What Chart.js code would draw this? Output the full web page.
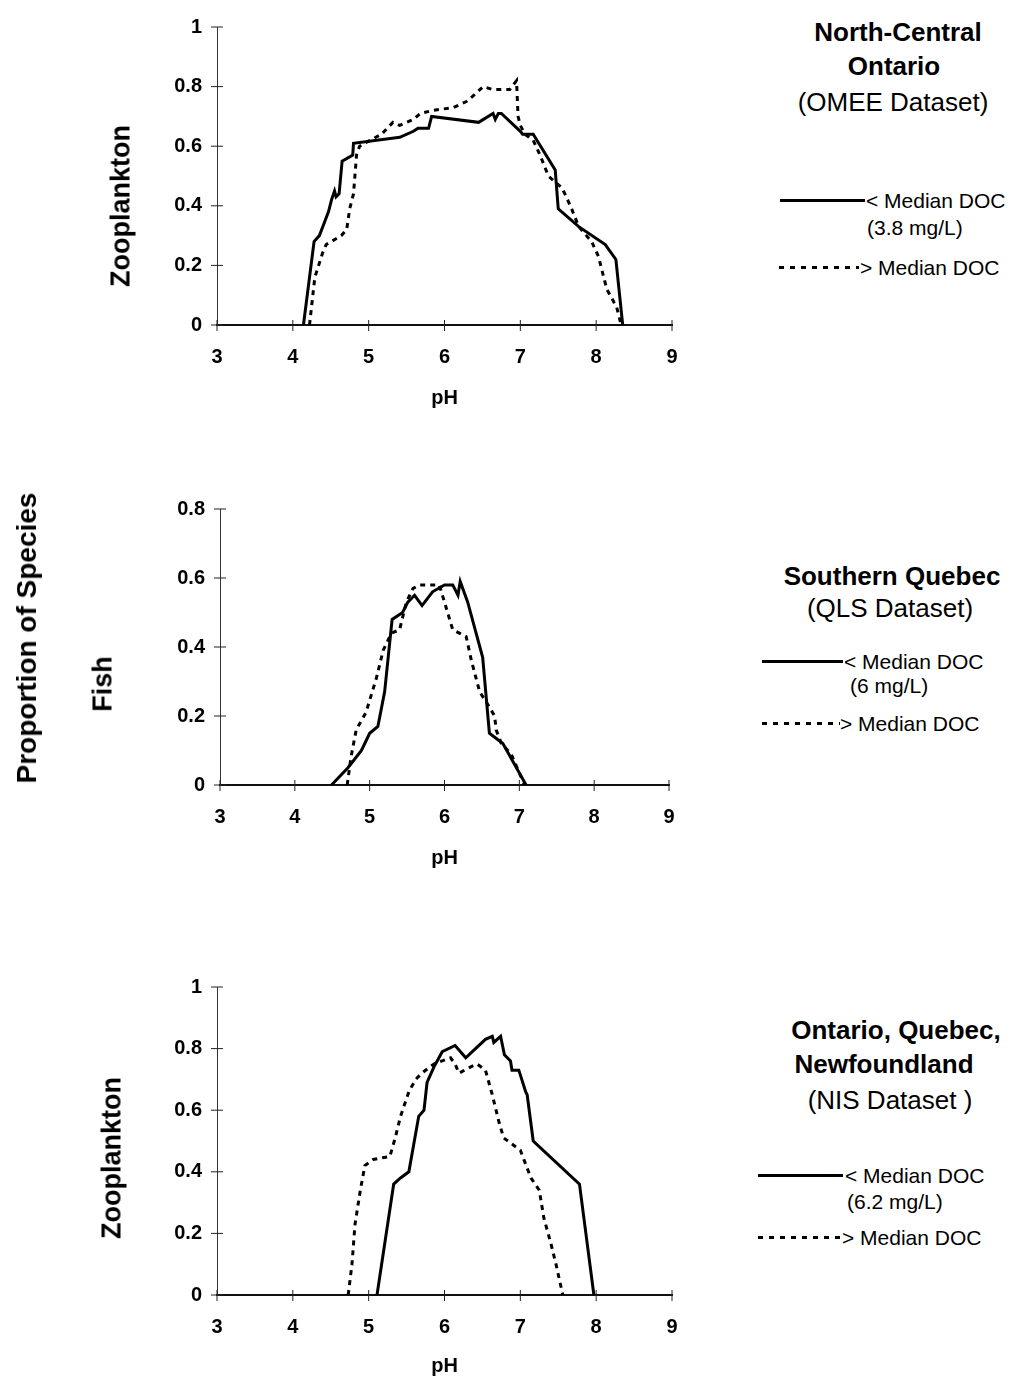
<!DOCTYPE html>
<html>
<head>
<meta charset="utf-8">
<script src="https://cdn.jsdelivr.net/npm/chart.js@4.4.1/dist/chart.umd.min.js"></script>
<style>
  body { margin: 0; width: 1013px; height: 1377px; position: relative; background: #fff; overflow: hidden;
         font-family: "Liberation Sans", Arial, sans-serif; color: #000; }
  .panel { position: absolute; left: 0; }
  .t { position: absolute; white-space: nowrap; transform: translate(-50%, -50%); font-size: 26px; }
  .b { font-weight: bold; }
  .rot { transform: translate(-50%, -50%) rotate(-90deg); font-size: 27px; }
  .lt { position: absolute; white-space: nowrap; transform: translateY(-50%); font-size: 21px; }
  .solid { position: absolute; height: 3px; background: #000; }
  .dash { position: absolute; height: 3px; background: repeating-linear-gradient(90deg, #000 0 5px, transparent 5px 11px); }
</style>
</head>
<body>

<canvas id="omee" class="panel" width="700" height="410" style="top:0px"></canvas>
<canvas id="qls" class="panel" width="700" height="390" style="top:480px"></canvas>
<canvas id="nis" class="panel" width="700" height="418" style="top:960px"></canvas>

<!-- y titles -->
<div class="t b rot" style="left:27px; top:638px; font-size:28px">Proportion of Species</div>
<div class="t b rot" style="left:121px; top:206px">Zooplankton</div>
<div class="t b rot" style="left:103px; top:684px">Fish</div>
<div class="t b rot" style="left:112px; top:1158px">Zooplankton</div>

<!-- panel titles + legends -->
<div class="t b" style="left:898px; top:32px">North-Central</div>
<div class="t b" style="left:894px; top:66px">Ontario</div>
<div class="t" style="left:893px; top:102px">(OMEE Dataset)</div>
<div class="solid" style="left:780px; top:199px; width:85px"></div>
<div class="lt" style="left:866px; top:201px">&lt; Median DOC</div>
<div class="lt" style="left:867px; top:228px">(3.8 mg/L)</div>
<div class="dash" style="left:779px; top:266px; width:80px"></div>
<div class="lt" style="left:860px; top:268px">&gt; Median DOC</div>

<div class="t b" style="left:892px; top:576px">Southern Quebec</div>
<div class="t" style="left:890px; top:608px">(QLS Dataset)</div>
<div class="solid" style="left:762px; top:660px; width:81px"></div>
<div class="lt" style="left:844px; top:662px">&lt; Median DOC</div>
<div class="lt" style="left:850px; top:686px">(6 mg/L)</div>
<div class="dash" style="left:762px; top:722px; width:78px"></div>
<div class="lt" style="left:840px; top:724px">&gt; Median DOC</div>

<div class="t b" style="left:896px; top:1030px">Ontario, Quebec,</div>
<div class="t b" style="left:884px; top:1064px">Newfoundland</div>
<div class="t" style="left:890px; top:1100px">(NIS Dataset )</div>
<div class="solid" style="left:758px; top:1174px; width:85px"></div>
<div class="lt" style="left:845px; top:1176px">&lt; Median DOC</div>
<div class="lt" style="left:847px; top:1202px">(6.2 mg/L)</div>
<div class="dash" style="left:758px; top:1236px; width:82px"></div>
<div class="lt" style="left:842px; top:1238px">&gt; Median DOC</div>

<script>
// North-Central Ontario (OMEE), zooplankton
const omeeLowPH = [4.14, 4.28, 4.35, 4.41, 4.47, 4.51, 4.55, 4.57, 4.61, 4.65, 4.79, 4.80, 5.41, 5.59, 5.65, 5.79, 5.83,
  6.45, 6.64, 6.67, 6.71, 6.75, 7.00, 7.03, 7.17, 7.46, 7.50, 7.77, 8.12, 8.26, 8.35];
const omeeLowProp = [0, 0.28, 0.30, 0.34, 0.38, 0.42, 0.45, 0.43, 0.44, 0.55, 0.57, 0.61, 0.63, 0.65, 0.66, 0.66, 0.70,
  0.68, 0.71, 0.69, 0.71, 0.71, 0.65, 0.64, 0.64, 0.52, 0.39, 0.33, 0.27, 0.22, 0];
const omeeHighPH = [4.22, 4.29, 4.39, 4.44, 4.64, 4.71, 4.75, 4.80, 4.84, 4.88, 5.02, 5.17, 5.32, 5.41, 5.59, 5.68, 5.85,
  6.12, 6.29, 6.34, 6.51, 6.64, 6.75, 6.86, 6.95, 6.97, 7.00, 7.06, 7.17, 7.26, 7.37, 7.55, 7.66, 7.77, 7.94, 8.03,
  8.14, 8.27, 8.33];
const omeeHighProp = [0, 0.16, 0.24, 0.27, 0.30, 0.32, 0.39, 0.44, 0.57, 0.60, 0.62, 0.64, 0.68, 0.67, 0.69, 0.71, 0.72,
  0.73, 0.75, 0.76, 0.80, 0.79, 0.79, 0.79, 0.82, 0.70, 0.67, 0.64, 0.62, 0.57, 0.50, 0.46, 0.40, 0.33, 0.28, 0.23,
  0.12, 0.06, 0];

// Southern Quebec (QLS), fish
const qlsLowPH = [4.49, 4.71, 4.89, 5.00, 5.11, 5.20, 5.30, 5.44, 5.51, 5.60, 5.70, 5.84, 6.00, 6.11, 6.18, 6.21, 6.31,
  6.51, 6.60, 6.78, 7.09];
const qlsLowProp = [0, 0.05, 0.10, 0.15, 0.17, 0.27, 0.48, 0.50, 0.53, 0.55, 0.52, 0.56, 0.58, 0.58, 0.55, 0.59, 0.53,
  0.37, 0.15, 0.12, 0];
const qlsHighPH = [4.70, 4.75, 4.82, 4.95, 5.09, 5.18, 5.29, 5.40, 5.49, 5.58, 5.67, 5.93, 6.00, 6.11, 6.29, 6.36, 6.47,
  6.56, 6.67, 6.69, 6.76, 6.89, 7.05, 7.07];
const qlsHighProp = [0, 0.08, 0.16, 0.21, 0.31, 0.39, 0.44, 0.45, 0.53, 0.57, 0.58, 0.58, 0.53, 0.45, 0.43, 0.36, 0.27,
  0.24, 0.20, 0.16, 0.12, 0.09, 0.01, 0];

// Ontario, Quebec, Newfoundland (NIS), zooplankton
const nisLowPH = [5.11, 5.33, 5.42, 5.53, 5.66, 5.73, 5.77, 5.86, 5.97, 6.14, 6.28, 6.54, 6.63, 6.65, 6.74, 6.79, 6.87,
  6.89, 6.98, 7.07, 7.09, 7.17, 7.78, 7.97];
const nisLowProp = [0, 0.36, 0.38, 0.40, 0.58, 0.60, 0.69, 0.74, 0.79, 0.81, 0.77, 0.83, 0.84, 0.82, 0.84, 0.78, 0.76,
  0.73, 0.73, 0.66, 0.65, 0.50, 0.36, 0];
const nisHighPH = [4.73, 4.78, 4.82, 4.89, 4.95, 5.06, 5.28, 5.35, 5.42, 5.53, 5.62, 5.70, 5.86, 6.08, 6.14, 6.19, 6.34,
  6.43, 6.54, 6.63, 6.72, 6.78, 6.89, 7.00, 7.14, 7.25, 7.31, 7.40, 7.47, 7.56];
const nisHighProp = [0, 0.10, 0.23, 0.34, 0.42, 0.44, 0.45, 0.51, 0.58, 0.66, 0.70, 0.72, 0.75, 0.77, 0.75, 0.72, 0.74,
  0.75, 0.73, 0.65, 0.56, 0.51, 0.49, 0.47, 0.38, 0.34, 0.25, 0.17, 0.10, 0];

const phMin = 3, phMax = 9;
const fontFamily = '"Liberation Sans", Arial, sans-serif';

// tick marks that cross the axis line, like the original plot
const crossTicks = {
  id: 'crossTicks',
  afterDraw(chart) {
    const ctx = chart.ctx;
    const xs = chart.scales.x, ys = chart.scales.y;
    ctx.save();
    ctx.strokeStyle = '#222';
    ctx.lineWidth = 1;
    ctx.beginPath();
    xs.ticks.forEach(t => {
      const px = xs.getPixelForValue(t.value);
      ctx.moveTo(px, ys.bottom - 5);
      ctx.lineTo(px, ys.bottom + 6);
    });
    ys.ticks.forEach(t => {
      const py = ys.getPixelForValue(t.value);
      ctx.moveTo(xs.left - 6, py);
      ctx.lineTo(xs.left + 6, py);
    });
    ctx.stroke();
    ctx.restore();
  }
};

function toPoints(xs, ys) {
  return xs.map((v, i) => ({ x: v, y: ys[i] }));
}

function makePanel(id, low, high, yMax, box) {
  const canvas = document.getElementById(id);
  const tickFont = { family: fontFamily, size: 20, weight: 'bold' };
  return new Chart(canvas.getContext('2d'), {
    type: 'line',
    data: {
      datasets: [{
        label: '< Median DOC',
        data: toPoints(low[0], low[1]),
        borderColor: '#000',
        borderWidth: 3,
        pointRadius: 0,
        tension: 0
      }, {
        label: '> Median DOC',
        data: toPoints(high[0], high[1]),
        borderColor: '#000',
        borderWidth: 3,
        borderDash: [5, 5],
        pointRadius: 0,
        tension: 0
      }]
    },
    options: {
      responsive: false,
      animation: false,
      layout: { padding: { left: 0, top: box.top, right: canvas.width - box.right, bottom: 0 } },
      plugins: { legend: { display: false }, tooltip: { enabled: false } },
      scales: {
        x: {
          type: 'linear',
          min: phMin, max: phMax,
          ticks: { stepSize: 1, padding: 20, color: '#000', font: tickFont },
          grid: { display: true, drawOnChartArea: false, drawTicks: false },
          border: { color: '#111', width: 2 },
          title: { display: true, text: 'pH', color: '#000', padding: 0, font: tickFont },
          afterFit(scale) { scale.height = box.xHeight; }
        },
        y: {
          min: 0, max: yMax,
          ticks: {
            stepSize: 0.2, padding: 15, color: '#000', font: tickFont,
            callback: v => String(Number(v.toFixed(1)))
          },
          grid: { display: true, drawOnChartArea: false, drawTicks: false },
          border: { color: '#333', width: 1 },
          afterFit(scale) { scale.width = box.left; }
        }
      }
    },
    plugins: [crossTicks]
  });
}

makePanel('omee', [omeeLowPH, omeeLowProp], [omeeHighPH, omeeHighProp], 1,
  { left: 217, right: 672, top: 19, xHeight: 85 });
makePanel('qls', [qlsLowPH, qlsLowProp], [qlsHighPH, qlsHighProp], 0.8,
  { left: 220, right: 669, top: 29, xHeight: 85 });
makePanel('nis', [nisLowPH, nisLowProp], [nisHighPH, nisHighProp], 1,
  { left: 217, right: 672, top: 22, xHeight: 83 });
</script>
</body>
</html>
